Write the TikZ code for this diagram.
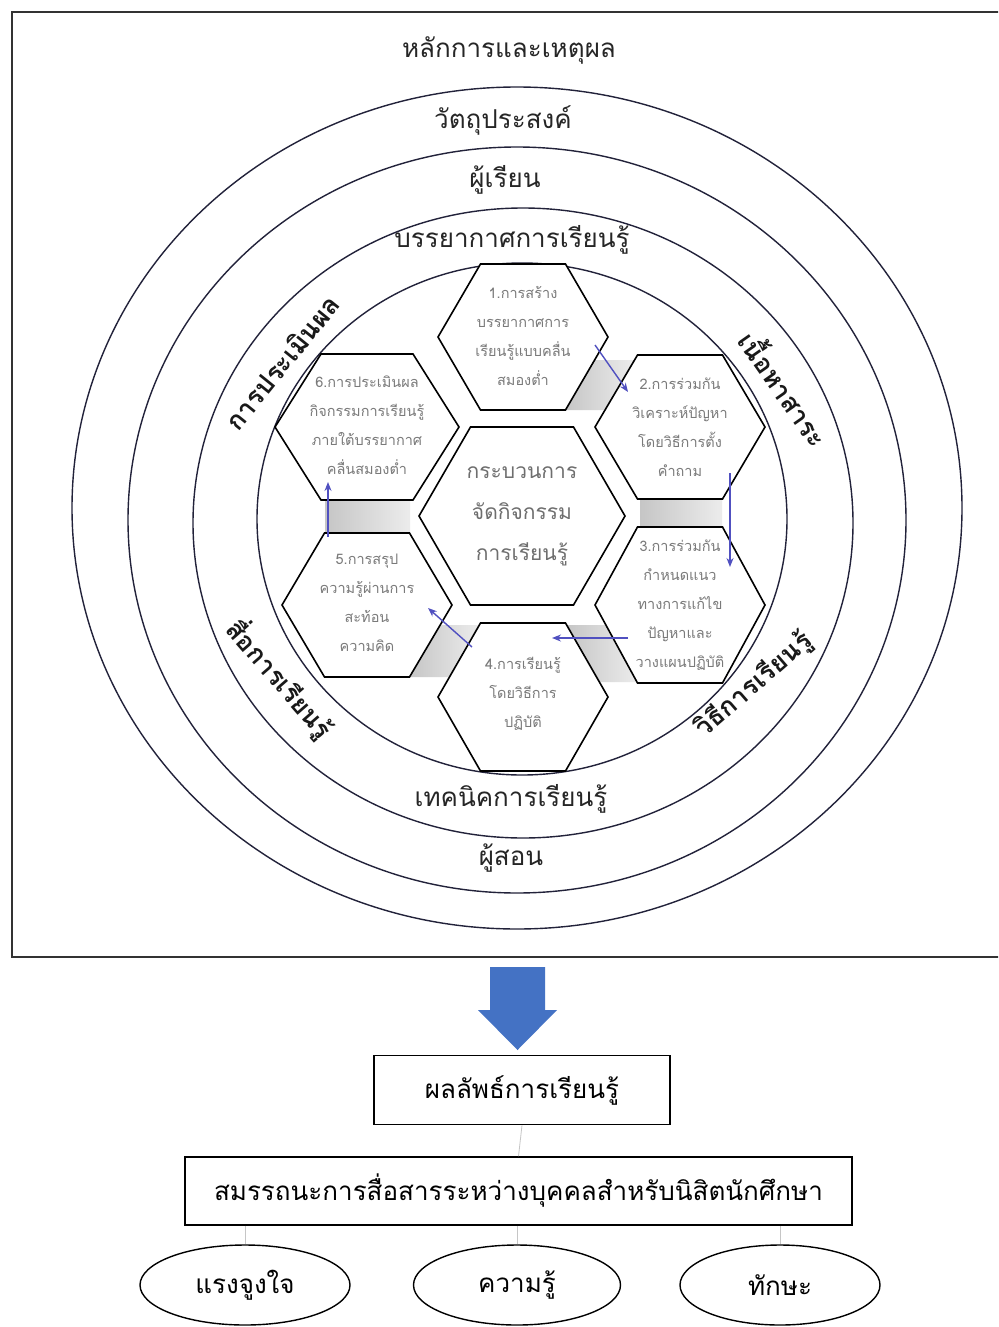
\documentclass[tikz,border=0pt]{standalone}
\usepackage{fontspec}
\setmainfont[Script=Thai]{Loma}
\usetikzlibrary{calc,arrows.meta,shapes.geometric}
\definecolor{ringc}{HTML}{22223A}
\definecolor{hexgray}{HTML}{7A7A7A}
\definecolor{flowblue}{HTML}{5050C0}
\definecolor{bigblue}{HTML}{4472C4}
\newcommand{\hexa}[4]{%
  \draw[hexline] (#1-#3,#2) -- (#1-#3/2,#2-#4) -- (#1+#3/2,#2-#4) -- (#1+#3,#2)
    -- (#1+#3/2,#2+#4) -- (#1-#3/2,#2+#4) -- cycle;}
\begin{document}
\begin{tikzpicture}[x=1pt,y=-1pt,
  ringline/.style={draw=ringc, line width=1.4pt},
  hexline/.style={draw=black, line width=1.6pt, fill=white},
  hextext/.style={text=hexgray, align=center, font=\fontsize{14.5}{29}\selectfont},
  centertext/.style={text=hexgray!90!black, align=center, font=\fontsize{21}{41}\selectfont},
  flow/.style={draw=flowblue, line width=1.4pt, -{Stealth[length=9pt,width=7pt]}},
  lvl/.style={text=black!85, font=\fontsize{26}{30}\selectfont},
  side/.style={text=black!90, font=\bfseries\fontsize{26}{30}\selectfont},
  band/.style={left color=gray!45, right color=gray!15},
  outbox/.style={draw=black, line width=1.6pt, font=\fontsize{26}{30}\selectfont},
  oval/.style={ellipse, draw=black, line width=1.4pt, font=\fontsize{26}{30}\selectfont},
  thinlink/.style={draw=gray!45, line width=0.8pt}]
\useasboundingbox (0,0) rectangle (998,1327);
\clip (0,0) rectangle (998,1327);
\fill[white] (0,0) rectangle (998,1327);
% frame
\draw[draw=black!80, line width=2pt] (12,12) rectangle (1010,957);
% rings
\draw[ringline] (517,508) ellipse [x radius=445pt, y radius=421pt];
\draw[ringline] (517,520) ellipse [x radius=389pt, y radius=373pt];
\draw[ringline] (523,523) ellipse [x radius=330pt, y radius=315pt];
\draw[ringline] (522,519) ellipse [x radius=265pt, y radius=256pt];
% level labels
\node[lvl] (l1) at (509,50) {หลักการและเหตุผล};
\node[lvl] (l2) at (503,120) {วัตถุประสงค์};
\node[lvl] (l3) at (505,180) {ผู้เรียน};
\node[lvl] (l4) at (512,240) {บรรยากาศการเรียนรู้};
\node[lvl] (l5) at (511,799) {เทคนิคการเรียนรู้};
\node[lvl] (l6) at (511,858) {ผู้สอน};
% side labels
\node[side, rotate=51] (s1) at (282,362) {การประเมินผล};
\node[side, rotate=-55] (s2) at (786,388) {เนื้อหาสาระ};
\node[side, rotate=41] (s3) at (754,685) {วิธีการเรียนรู้};
\node[side, rotate=-49] (s4) at (280,679) {สื่อการเรียนรู้};
% grey bands
\shade[band] (594,360) -- (634,360) -- (605,410) -- (565,410) -- cycle;
\shade[band] (640,499) rectangle (722,528);
\shade[band] (567,625) -- (606,625) -- (637,682) -- (599,682) -- cycle;
\shade[band] (440,625) -- (479,625) -- (449.5,677) -- (409.5,677) -- cycle;
\shade[band] (325,500) rectangle (410,533);
% hexagons
\hexa{522}{516}{103}{89}
\hexa{523}{337}{85}{73}
\hexa{680}{427}{85}{72}
\hexa{680}{605}{85}{78}
\hexa{523}{697}{85}{74}
\hexa{367}{605}{85}{72}
\hexa{367}{427}{92}{73}
% hexagon texts
\node[centertext] (h0) at (522,516) {กระบวนการ\\จัดกิจกรรม\\การเรียนรู้};
\node[hextext] (h1) at (523,336) {1.การสร้าง\\บรรยากาศการ\\เรียนรู้แบบคลื่น\\สมองต่ำ};
\node[hextext] (h2) at (680,427) {2.การร่วมกัน\\วิเคราะห์ปัญหา\\โดยวิธีการตั้ง\\คำถาม};
\node[hextext] (h3) at (680,605) {3.การร่วมกัน\\กำหนดแนว\\ทางการแก้ไข\\ปัญหาและ\\วางแผนปฏิบัติ};
\node[hextext] (h4) at (523,694) {4.การเรียนรู้\\โดยวิธีการ\\ปฏิบัติ};
\node[hextext] (h5) at (367,603) {5.การสรุป\\ความรู้ผ่านการ\\สะท้อน\\ความคิด};
\node[hextext] (h6) at (367,425) {6.การประเมินผล\\กิจกรรมการเรียนรู้\\ภายใต้บรรยากาศ\\คลื่นสมองต่ำ};
% flow arrows
\coordinate (a1s) at (595,345); \coordinate (a1e) at (628,392);
\coordinate (a2s) at (730,473); \coordinate (a2e) at (730,567);
\coordinate (a3s) at (628,638); \coordinate (a3e) at (552,638);
\coordinate (a4s) at (472,647); \coordinate (a4e) at (428,608);
\coordinate (a5s) at (328,537); \coordinate (a5e) at (328,482);
\draw[flow] (a1s) -- (a1e);
\draw[flow] (a2s) -- (a2e);
\draw[flow] (a3s) -- (a3e);
\draw[flow] (a4s) -- (a4e);
\draw[flow] (a5s) -- (a5e);
% big arrow
\fill[bigblue] (490,967) -- (545,967) -- (545,1010) -- (557,1010) -- (517.5,1050)
  -- (478,1010) -- (490,1010) -- cycle;
% results
\node[outbox, minimum width=296pt, minimum height=69pt] (res) at (522,1090) {ผลลัพธ์การเรียนรู้};
\node[outbox, minimum width=667pt, minimum height=68pt] (comp) at (518.5,1191) {สมรรถนะการสื่อสารระหว่างบุคคลสำหรับนิสิตนักศึกษา};
\node[oval, minimum width=210pt, minimum height=80pt] (e1) at (245,1285) {แรงจูงใจ};
\node[oval, minimum width=207pt, minimum height=80pt] (e2) at (517,1285) {ความรู้};
\node[oval, minimum width=200pt, minimum height=80pt] (e3) at (780,1285) {ทักษะ};
\draw[thinlink] (res.south) -- (comp.north);
\draw[thinlink] (comp.south -| e1.north) -- (e1.north);
\draw[thinlink] (comp.south -| e2.north) -- (e2.north);
\draw[thinlink] (comp.south -| e3.north) -- (e3.north);
\end{tikzpicture}
\end{document}
